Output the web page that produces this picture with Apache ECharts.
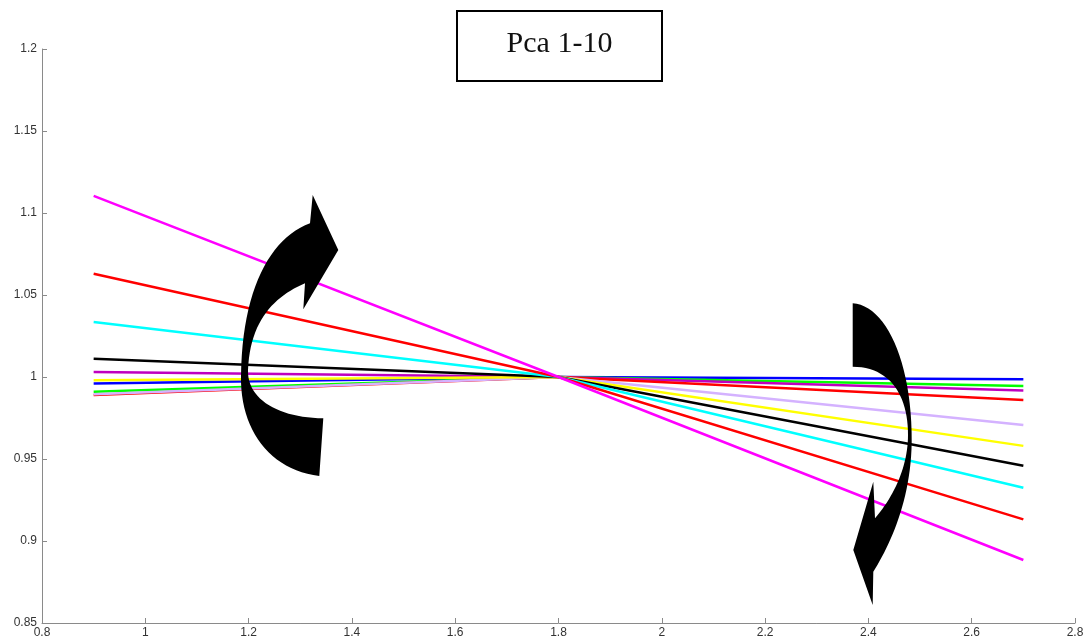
<!DOCTYPE html>
<html>
<head>
<meta charset="utf-8">
<script src="https://cdn.jsdelivr.net/npm/echarts@6/dist/echarts.min.js"></script>
<style>
  html, body { margin: 0; padding: 0; background: #fff; }
  #chart { width: 1090px; height: 642px; }
</style>
</head>
<body>
<div id="chart"></div>
<script>
// x positions where each response is sampled; all curves are normalised to 1 at x = 1.8
const xPoints = [0.9, 1.8, 2.7];

// Normalised values for principal components 1-10 at xPoints
const pcBlue     = [0.996, 1, 0.9986];
const pcGreen    = [0.991, 1, 0.9945];
const pcPurple   = [1.003, 1, 0.9917];
const pcRedLow   = [0.989, 1, 0.986];
const pcLavender = [0.9895, 1, 0.9707];
const pcYellow   = [0.998, 1, 0.958];
const pcBlack    = [1.0112, 1, 0.9459];
const pcCyan     = [1.0335, 1, 0.9325];
const pcRedHigh  = [1.0629, 1, 0.9132];
const pcMagenta  = [1.1104, 1, 0.8884];

const seriesValues = [pcBlue, pcGreen, pcPurple, pcRedLow, pcLavender,
                      pcYellow, pcBlack, pcCyan, pcRedHigh, pcMagenta];
const seriesColors = ['#0000ff', '#00ff00', '#bf00bf', '#ff0000', '#d4b2ff',
                      '#ffff00', '#000000', '#00ffff', '#ff0000', '#ff00ff'];

// Axis ticks
const xTicks = [0.8, 1, 1.2, 1.4, 1.6, 1.8, 2, 2.2, 2.4, 2.6, 2.8];
const yTicks = [0.85, 0.9, 0.95, 1, 1.05, 1.1, 1.15, 1.2];

const titleText = 'Pca 1-10';

const chart = echarts.init(document.getElementById('chart'), null, { renderer: 'canvas' });

const axisCommon = {
  axisLine: { show: true, lineStyle: { color: '#8a8a8a', width: 1 } },
  axisTick: { show: true, inside: true, length: 5, lineStyle: { color: '#8a8a8a' } },
  splitLine: { show: false },
  axisLabel: {
    color: '#333',
    fontFamily: 'Liberation Sans, Arial, sans-serif',
    fontSize: 12,
    formatter: v => String(+v.toFixed(2))
  }
};

const series = seriesValues.map((vals, i) => ({
  type: 'line',
  data: vals.map((v, k) => [xPoints[k], v]),
  symbol: 'none',
  lineStyle: { color: seriesColors[i], width: 2.5 },
  z: 2 + i,
  silent: true
}));

// Outline builder: a start point followed by straight ('L') and cubic ('C') segments
function outline(start, segs) {
  const pts = [start.slice()];
  let cur = start;
  segs.forEach(s => {
    if (s[0] === 'L') {
      cur = s[1];
      pts.push(cur.slice());
    } else {
      const [p1, p2, p3] = [s[1], s[2], s[3]];
      for (let t = 1; t <= 24; t++) {
        const u = t / 24, m = 1 - u;
        pts.push([
          m * m * m * cur[0] + 3 * m * m * u * p1[0] + 3 * m * u * u * p2[0] + u * u * u * p3[0],
          m * m * m * cur[1] + 3 * m * m * u * p1[1] + 3 * m * u * u * p2[1] + u * u * u * p3[1]
        ]);
      }
      cur = p3;
    }
  });
  return pts;
}

// Curved rotation arrows drawn over the plot
const leftArrow = outline([312.7, 195], [
  ['L', [338.3, 250]], ['L', [303.3, 309.3]], ['L', [305, 283.3]],
  ['C', [275, 296], [250, 320], [248, 370]],
  ['C', [247, 400], [280, 418], [323.3, 418.3]],
  ['L', [319.3, 476]],
  ['C', [270, 470], [240, 430], [241, 376]],
  ['C', [242, 290], [270, 238], [310, 223.3]]
]);
const rightArrow = outline([852.7, 303.3], [
  ['C', [885, 305], [912, 360], [911.7, 441.7]],
  ['C', [911, 500], [890, 545], [873.3, 571.7]],
  ['L', [872.7, 605]], ['L', [853.3, 550]], ['L', [873.3, 481.7]], ['L', [875, 518.3]],
  ['C', [895, 495], [908, 465], [908, 435]],
  ['C', [908, 395], [890, 367], [852.7, 366.7]]
]);

chart.setOption({
  animation: false,
  backgroundColor: '#ffffff',
  grid: { left: 42, right: 15, top: 49, bottom: 19, containLabel: false },
  xAxis: Object.assign({}, axisCommon, {
    type: 'value',
    min: xTicks[0], max: xTicks[xTicks.length - 1], interval: 0.2,
    axisLabel: Object.assign({}, axisCommon.axisLabel, { margin: 4 })
  }),
  yAxis: Object.assign({}, axisCommon, {
    type: 'value',
    min: yTicks[0], max: yTicks[yTicks.length - 1], interval: 0.05,
    axisLabel: Object.assign({}, axisCommon.axisLabel, { margin: 5 })
  }),
  series: series,
  graphic: [
    {
      type: 'rect', z: 100,
      shape: { x: 457, y: 11, width: 205, height: 70 },
      style: { fill: '#fff', stroke: '#000', lineWidth: 2 }
    },
    {
      type: 'text', x: 559.5, y: 44, z: 101,
      style: {
        text: titleText, fill: '#111', font: '30px "Liberation Serif", "DejaVu Serif", serif',
        align: 'center', verticalAlign: 'middle'
      }
    },
    { type: 'polygon', z: 50, shape: { points: leftArrow }, style: { fill: '#000' } },
    { type: 'polygon', z: 50, shape: { points: rightArrow }, style: { fill: '#000' } }
  ]
});
</script>
</body>
</html>
